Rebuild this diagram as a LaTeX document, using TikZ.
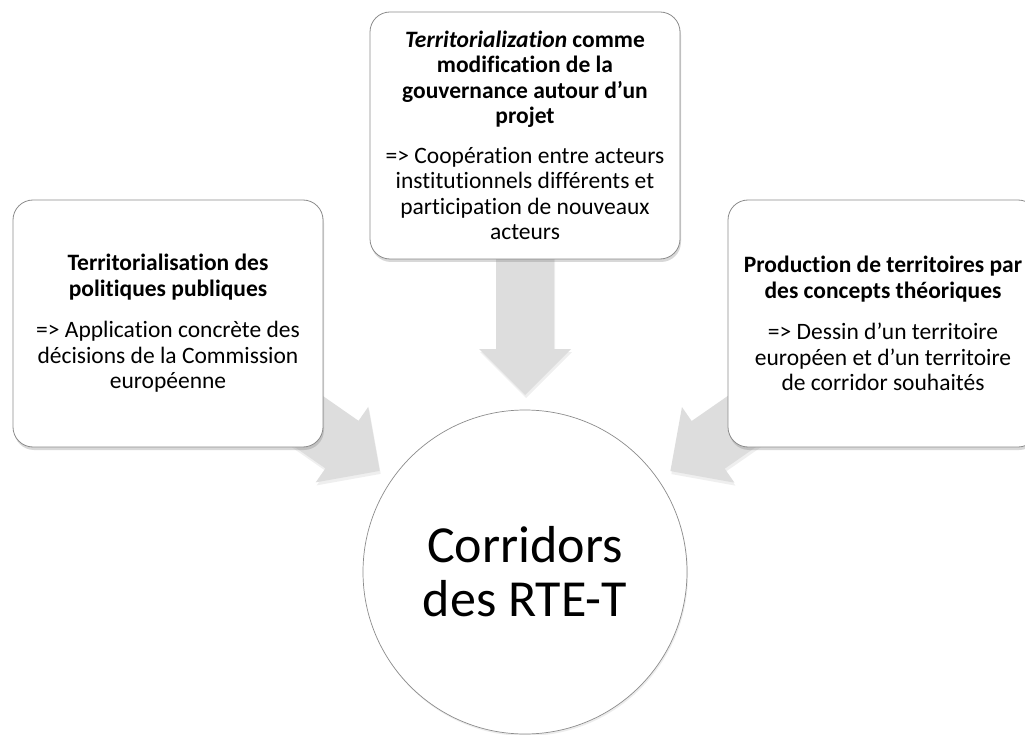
\documentclass[tikz,border=0pt]{standalone}
\usepackage{fontspec}
\setmainfont{Carlito}[Ligatures={TeX,NoCommon}]
\usetikzlibrary{calc,shadows}
\definecolor{arrowgray}{RGB}{221,221,221}
\definecolor{boxline}{RGB}{140,140,140}
\tikzset{
  box/.style={draw=boxline, line width=0.8pt, fill=white, rounded corners=20pt,
    minimum width=310pt, minimum height=247pt, text width=306pt, inner sep=2pt,
    align=flush center, font=\fontsize{23.5}{25.5}\selectfont,
    drop shadow={shadow xshift=1pt, shadow yshift=-3pt, opacity=0.3}},
  hub/.style={circle, draw=boxline, line width=0.7pt, fill=white,
    minimum size=324pt, inner sep=0pt, align=center,
    font=\fontsize{52}{54}\selectfont,
    drop shadow={shadow xshift=1pt, shadow yshift=-2pt, opacity=0.15}},
  blockarrow/.style={fill=arrowgray, draw=none,
    drop shadow={shadow xshift=1pt, shadow yshift=-3pt, opacity=0.12}}
}
\newcommand\blockarr[3]{%
  \coordinate (#3b) at ($(#2)!46pt!(#1)$);
  \fill[blockarrow] ($(#1)!29pt!90:(#2)$) -- ($(#3b)!29pt!-90:(#1)$)
    -- ($(#3b)!46pt!-90:(#1)$) -- (#2) -- ($(#3b)!46pt!90:(#1)$)
    -- ($(#3b)!29pt!90:(#1)$) -- ($(#1)!29pt!-90:(#2)$) -- cycle;
}
\begin{document}
\begin{tikzpicture}[x=1pt,y=-1pt]
\useasboundingbox (0,0) rectangle (1025,735);
\clip (0,0) rectangle (1025,735);
\fill[white] (0,0) rectangle (1025,735);
% anchor coordinates
\coordinate (cL) at (168,323.5);
\coordinate (cM) at (525,135.5);
\coordinate (cR) at (883,323.5);
\coordinate (cH) at (525,572);
\coordinate (tipL) at ($(cH)!177pt!(cL)$);
\coordinate (tipM) at ($(cH)!177pt!(cM)$);
\coordinate (tipR) at ($(cH)!177pt!(cR)$);
% arrows
\blockarr{cL}{tipL}{aL}
\blockarr{cM}{tipM}{aM}
\blockarr{cR}{tipR}{aR}
% boxes
\node[box] (left) at (cL) {{\bfseries Territorialisation des\\ politiques publiques}\\[16pt]
  => Application concrète des\\ décisions de la Commission\\ européenne};
\node[box] (mid) at (cM) {{\bfseries {\itshape Territorialization} comme\\ modification de la\\ gouvernance autour d’un\\ projet}\\[14pt]
  => Coopération entre acteurs\\ institutionnels différents et\\ participation de nouveaux\\ acteurs};
\node[box] (right) at (cR) {{\bfseries Production de territoires par\\ des concepts théoriques}\\[16pt]
  => Dessin d’un territoire\\ européen et d’un territoire\\ de corridor souhaités};
\node[hub] (hub) at (cH) {Corridors\\ des RTE-T};
\end{tikzpicture}
\end{document}
